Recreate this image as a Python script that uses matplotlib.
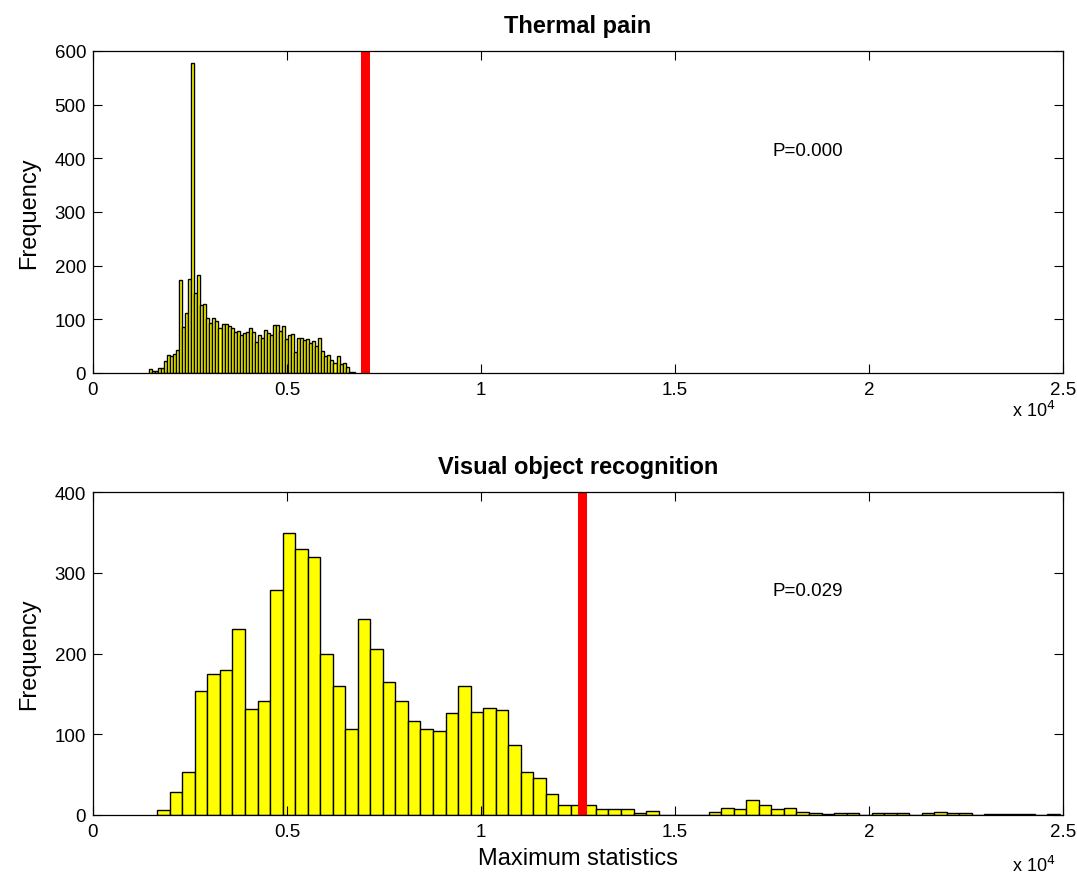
import numpy as np
from matplotlib import pyplot as plt

plt.rcParams['font.family'] = ['Liberation Sans', 'DejaVu Sans']

## histogram counts
thermal_counts = [7, 3, 3, 10, 10, 22, 33, 31, 35, 43, 174, 85, 111, 175, 578,
                  149, 182, 127, 129, 102, 93, 102,
                  96, 83, 92, 91, 87, 83, 77, 78, 71, 75, 77, 83, 76, 58, 70,
                  66, 81, 74, 70, 89, 89, 78, 87,
                  64, 71, 73, 40, 65, 66, 62, 63, 55, 60, 51, 65, 41, 31, 34,
                  25, 19, 31, 17, 19, 12, 1, 2]
thermal_start = 1440
thermal_width = 78
thermal_obs = 7000
thermal_p = 'P=0.000'

visual_counts = [6, 29, 53, 154, 175, 180, 230, 131, 141, 279, 349, 329, 319,
                 200, 160,
                 107, 243, 206, 165, 141, 117, 107, 104, 126, 160, 128, 132,
                 130, 87, 53, 46, 26, 12, 13, 12,
                 8, 7, 7, 3, 5, 0, 0, 0, 0, 4, 9, 8, 18, 12, 7, 9, 4, 2,
                 1, 2, 3, 0, 2, 3, 2, 0, 3, 4, 2, 2, 0, 1, 1, 1, 1, 0, 1]
visual_start = 1657
visual_width = 323
visual_obs = 12600
visual_p = 'P=0.029'

xtick_vals = [0, 5000, 10000, 15000, 20000, 25000]
xtick_labels = ['0', '0.5', '1', '1.5', '2', '2.5']


def draw_hist(ax, counts, start, width, obs, ptext, ptext_y, ymax, title):
    edges = start + width * np.arange(len(counts))
    ax.bar(edges, counts, width=width, align='edge', color='yellow',
           edgecolor='black', linewidth=1.0)
    ax.axvline(obs, color='red', linewidth=6.5)
    ax.set_xlim(0, 25000)
    ax.set_ylim(0, ymax)
    ax.set_xticks(xtick_vals)
    ax.set_xticklabels(xtick_labels)
    ax.set_yticks(np.arange(0, ymax + 1, 100))
    ax.tick_params(direction='in', length=6.5, width=0.8, labelsize=13.5,
                   top=True, right=True)
    ax.tick_params(axis='x', pad=6)
    ax.tick_params(axis='y', pad=5)
    for s in ax.spines.values():
        s.set_linewidth(0.9)
    ax.text(17500, ptext_y, ptext, fontsize=13.5, va='center', ha='left')
    ax.set_ylabel('Frequency', fontsize=17)
    ax.yaxis.set_label_coords(-0.055, 0.5)
    ax.set_title(title, fontsize=17, fontweight='bold', pad=14)


fig = plt.figure(figsize=(10.77, 8.79), dpi=100)
ax1 = fig.add_axes([93/1077, 1 - 374/879, 970/1077, 322/879])
ax2 = fig.add_axes([93/1077, 1 - 816/879, 970/1077, 323/879])

draw_hist(ax1, thermal_counts, thermal_start, thermal_width, thermal_obs,
          thermal_p, 415, 600, 'Thermal pain')
draw_hist(ax2, visual_counts, visual_start, visual_width, visual_obs,
          visual_p, 278, 400, 'Visual object recognition')

ax2.set_xlabel('Maximum statistics', fontsize=17)
ax2.xaxis.set_label_coords(0.5, -0.1)

ax1.text(0.947, -0.115, r'x 10$^4$', transform=ax1.transAxes, fontsize=13,
         ha='left', va='center')
ax2.text(0.947, -0.155, r'x 10$^4$', transform=ax2.transAxes, fontsize=13,
         ha='left', va='center')

plt.savefig('out.png', dpi=100)
